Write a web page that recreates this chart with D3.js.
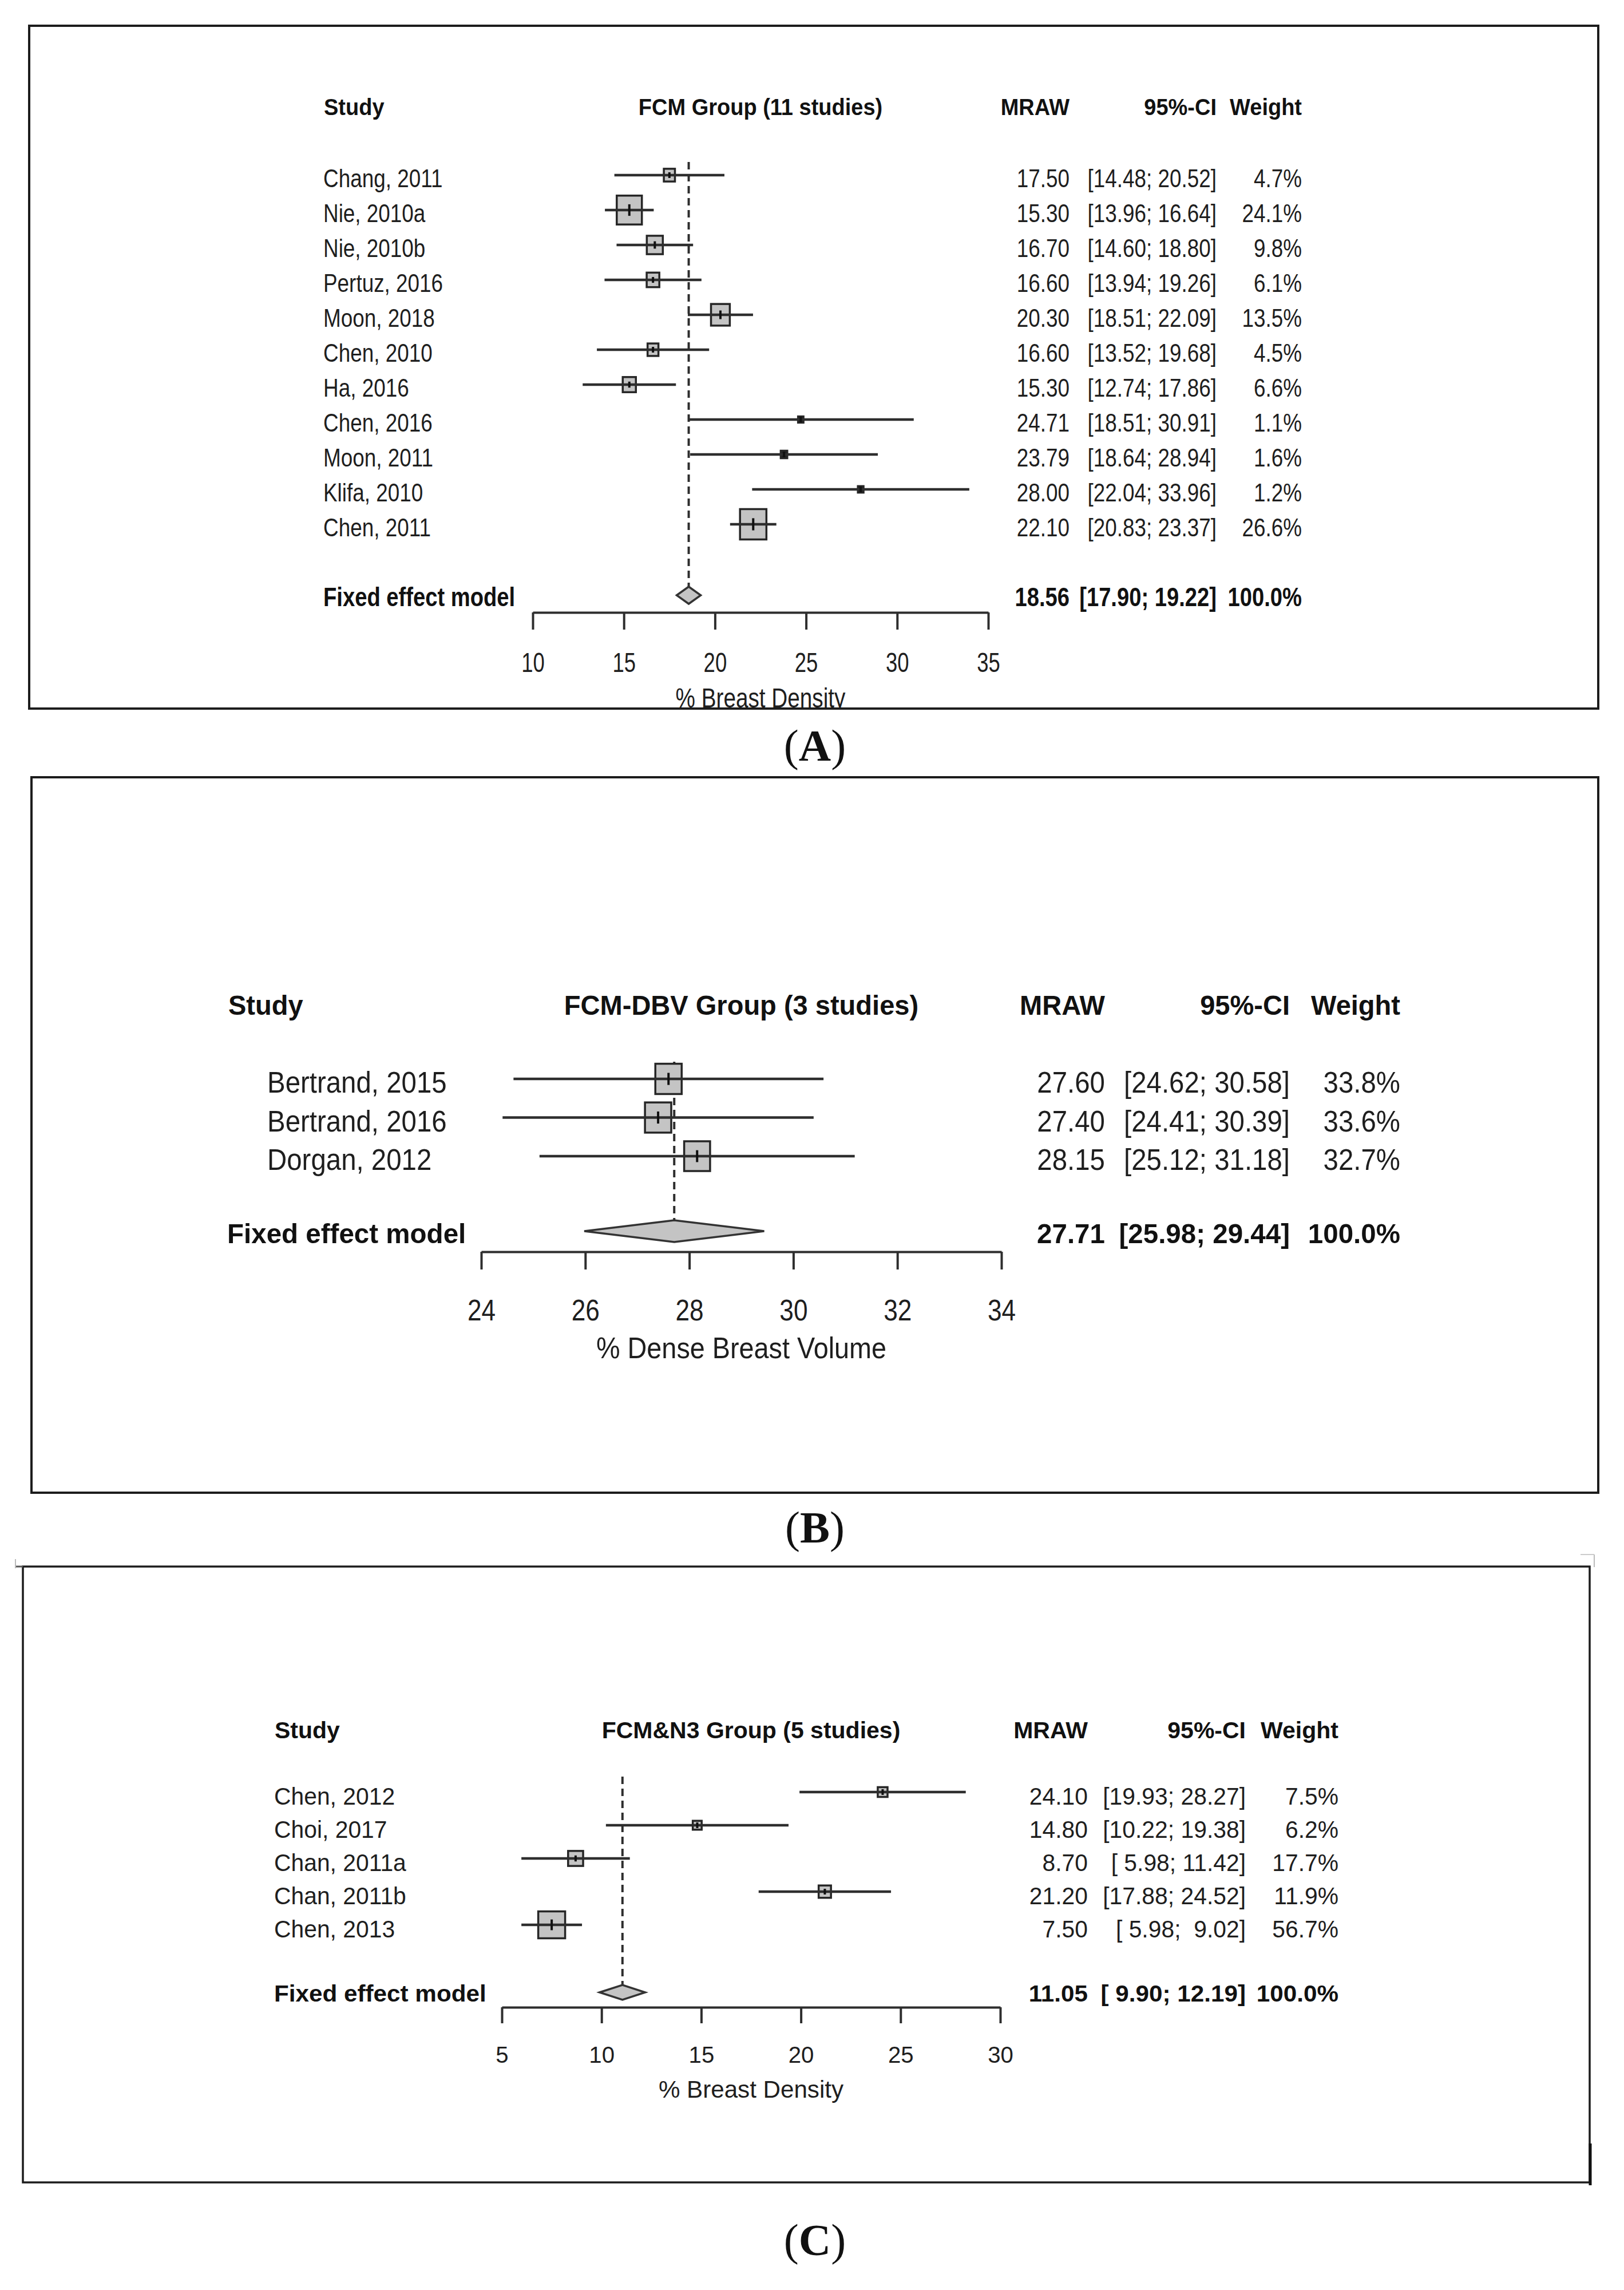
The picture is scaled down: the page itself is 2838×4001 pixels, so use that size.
<!DOCTYPE html>
<html>
<head>
<meta charset="utf-8">
<script src="https://cdn.jsdelivr.net/npm/d3@7"></script>
<style>
  html, body { margin: 0; padding: 0; background: #ffffff; }
  svg { display: block; }
</style>
</head>
<body>
<div id="chart"></div>
<script>
// ---------------- DATA ----------------
// Panel A
const titleA = "FCM Group (11 studies)";
const studiesA = ["Chang, 2011","Nie, 2010a","Nie, 2010b","Pertuz, 2016","Moon, 2018","Chen, 2010","Ha, 2016","Chen, 2016","Moon, 2011","Klifa, 2010","Chen, 2011"];
const meanA   = [17.50,15.30,16.70,16.60,20.30,16.60,15.30,24.71,23.79,28.00,22.10];
const lowerA  = [14.48,13.96,14.60,13.94,18.51,13.52,12.74,18.51,18.64,22.04,20.83];
const upperA  = [20.52,16.64,18.80,19.26,22.09,19.68,17.86,30.91,28.94,33.96,23.37];
const weightA = [4.7,24.1,9.8,6.1,13.5,4.5,6.6,1.1,1.6,1.2,26.6];
const pooledA = [18.56,17.90,19.22];
const ticksA  = [10,15,20,25,30,35];
const xlabelA = "% Breast Density";

// Panel B
const titleB = "FCM-DBV Group (3 studies)";
const studiesB = ["Bertrand, 2015","Bertrand, 2016","Dorgan, 2012"];
const meanB   = [27.60,27.40,28.15];
const lowerB  = [24.62,24.41,25.12];
const upperB  = [30.58,30.39,31.18];
const weightB = [33.8,33.6,32.7];
const pooledB = [27.71,25.98,29.44];
const ticksB  = [24,26,28,30,32,34];
const xlabelB = "% Dense Breast Volume";

// Panel C
const titleC = "FCM&N3 Group (5 studies)";
const studiesC = ["Chen, 2012","Choi, 2017","Chan, 2011a","Chan, 2011b","Chen, 2013"];
const meanC   = [24.10,14.80,8.70,21.20,7.50];
const lowerC  = [19.93,10.22,5.98,17.88,5.98];
const upperC  = [28.27,19.38,11.42,24.52,9.02];
const weightC = [7.5,6.2,17.7,11.9,56.7];
const pooledC = [11.05,9.90,12.19];
const ticksC  = [5,10,15,20,25,30];
const xlabelC = "% Breast Density";

const headStudy = "Study", headMean = "MRAW", headCI = "95%-CI", headW = "Weight";
const fixedLabel = "Fixed effect model";
const pooledWeight = "100.0%";
const captions = ["A","B","C"];

// ---------------- LAYOUT ----------------
const W = 2838, H = 4001;
const SANS = '"Liberation Sans", Arial, Helvetica, sans-serif';
const SERIF = '"Liberation Serif", "Times New Roman", serif';
const INK = "#1e1e1e", LINE = "#2e2e2e", FILLG = "#c4c4c4";

const svg = d3.select("#chart").append("svg")
  .attr("width", W).attr("height", H).attr("viewBox", `0 0 ${W} ${H}`);
svg.append("rect").attr("width", W).attr("height", H).attr("fill", "#fff");
const defs = svg.append("defs");

function txt(g, x, y, s, o) {
  return g.append("text")
    .attr("transform", `translate(${x},${y}) scale(${o.sx || 1},1)`)
    .attr("text-anchor", o.anchor || "start")
    .attr("fill", o.fill || INK)
    .style("font-family", o.family || SANS)
    .style("font-size", o.size + "px")
    .style("font-weight", o.bold ? "bold" : "normal")
    .style("white-space", "pre")
    .text(s);
}

function fmtCI(lo, hi, pad) {
  const p = v => { const s = v.toFixed(2); return (pad && s.length < 5 ? " " : "") + s; };
  return "[" + p(lo) + "; " + p(hi) + "]";
}

function drawPanel(id, d, c) {
  const [bx0, by0, bx1, by1] = c.box;
  defs.append("clipPath").attr("id", "clip" + id)
    .append("rect").attr("x", bx0).attr("y", by0).attr("width", bx1 - bx0).attr("height", by1 - by0);
  const g = svg.append("g").attr("clip-path", `url(#clip${id})`);

  const n = d.studies.length;
  const x = d3.scaleLinear().domain(c.domain).range(c.xRange);
  const y = d3.scaleLinear().domain([0, n - 1]).range([c.y0, c.y0 + c.step * (n - 1)]);
  const sqH = w => c.k * Math.sqrt(w);
  const pad = d.lower.concat(d.upper).some(v => v < 10) && d.upper.some(v => v >= 10);

  // headers
  txt(g, c.studyHeadX, c.headY, headStudy, c.fHead);
  txt(g, (c.xRange[0] + c.xRange[1]) / 2, c.headY, d.title, Object.assign({anchor: "middle"}, c.fHead));
  txt(g, c.colM, c.headY, headMean, Object.assign({anchor: "end"}, c.fHead));
  txt(g, c.colCI, c.headY, headCI, Object.assign({anchor: "end"}, c.fHead));
  txt(g, c.colW, c.headY, headW, Object.assign({anchor: "end"}, c.fHead));

  // reference (fixed effect) dashed line
  g.append("line")
    .attr("x1", x(d.pooled[0])).attr("x2", x(d.pooled[0]))
    .attr("y1", c.dashTop).attr("y2", c.sumY - c.dHalf)
    .attr("stroke", LINE).attr("stroke-width", 4).attr("stroke-dasharray", "13,8");

  const idx = d3.range(n);
  // squares
  g.selectAll("rect.sq" + id).data(idx).enter().append("rect")
    .attr("x", i => x(d.mean[i]) - sqH(d.weight[i]) * c.ar / 2)
    .attr("y", i => y(i) - sqH(d.weight[i]) / 2)
    .attr("width", i => sqH(d.weight[i]) * c.ar)
    .attr("height", i => sqH(d.weight[i]))
    .attr("fill", i => sqH(d.weight[i]) < 14 ? "#222" : FILLG)
    .attr("stroke", "#262626").attr("stroke-width", 3.5);
  // CI lines
  g.selectAll("line.ci" + id).data(idx).enter().append("line")
    .attr("x1", i => x(d.lower[i])).attr("x2", i => x(d.upper[i]))
    .attr("y1", i => y(i)).attr("y2", i => y(i))
    .attr("stroke", LINE).attr("stroke-width", 4.5);
  // centre ticks
  g.selectAll("line.ct" + id).data(idx).enter().append("line")
    .attr("x1", i => x(d.mean[i])).attr("x2", i => x(d.mean[i]))
    .attr("y1", i => y(i) - Math.max(5, sqH(d.weight[i]) * 0.2))
    .attr("y2", i => y(i) + Math.max(5, sqH(d.weight[i]) * 0.2))
    .attr("stroke", "#111").attr("stroke-width", 4);

  // study labels and values
  idx.forEach(i => {
    const by = y(i) + c.rowBase;
    txt(g, c.studyX, by, d.studies[i], c.fRow);
    txt(g, c.colM, by, d.mean[i].toFixed(2), Object.assign({anchor: "end"}, c.fRow));
    txt(g, c.colCI, by, fmtCI(d.lower[i], d.upper[i], pad), Object.assign({anchor: "end"}, c.fRow));
    txt(g, c.colW, by, d.weight[i].toFixed(1) + "%", Object.assign({anchor: "end"}, c.fRow));
  });

  // pooled diamond
  const px = x(d.pooled[0]), pl = x(d.pooled[1]), pu = x(d.pooled[2]);
  g.append("path")
    .attr("d", `M${pl},${c.sumY} L${px},${c.sumY - c.dHalf} L${pu},${c.sumY} L${px},${c.sumY + c.dHalf} Z`)
    .attr("fill", FILLG).attr("stroke", "#333").attr("stroke-width", 3.5);
  const fb = c.sumY + c.fixBase;
  txt(g, c.fixedX, fb, fixedLabel, c.fFix);
  txt(g, c.colM, fb, d.pooled[0].toFixed(2), Object.assign({anchor: "end"}, c.fFix));
  txt(g, c.colCI, fb, fmtCI(d.pooled[1], d.pooled[2], pad), Object.assign({anchor: "end"}, c.fFix));
  txt(g, c.colW, fb, pooledWeight, Object.assign({anchor: "end"}, c.fFix));

  // axis
  const axis = d3.axisBottom(x).tickValues(d.ticks).tickSize(c.tickLen)
    .tickSizeOuter(0).tickPadding(c.tickPad).tickFormat(d3.format("d"));
  const ag = g.append("g").attr("transform", `translate(0,${c.axisY})`).call(axis);
  ag.select(".domain").attr("stroke", LINE).attr("stroke-width", 4);
  ag.selectAll(".tick line").attr("stroke", LINE).attr("stroke-width", 4);
  ag.selectAll(".tick text")
    .attr("fill", INK)
    .attr("transform", `scale(${c.fTick.sx},1)`)
    .style("font-family", SANS).style("font-size", c.fTick.size + "px");

  txt(g, (c.xRange[0] + c.xRange[1]) / 2, c.xlabY, d.xlabel, Object.assign({anchor: "middle"}, c.fXlab));

  // frame
  svg.append("rect").attr("x", bx0).attr("y", by0).attr("width", bx1 - bx0).attr("height", by1 - by0)
    .attr("fill", "none").attr("stroke", "#1c1c1c").attr("stroke-width", c.frameW);

  // caption
  const cap = svg.append("text").attr("x", 1424).attr("y", c.capY)
    .attr("text-anchor", "middle").attr("fill", "#111")
    .style("font-family", SERIF).style("font-size", "78px");
  cap.append("tspan").text("(");
  cap.append("tspan").style("font-weight", "bold").text(c.caption);
  cap.append("tspan").text(")");
}

drawPanel("A",
  {title: titleA, studies: studiesA, mean: meanA, lower: lowerA, upper: upperA, weight: weightA,
   pooled: pooledA, ticks: ticksA, xlabel: xlabelA},
  {box: [51, 45, 2793, 1238], domain: [10, 35], xRange: [931, 1727],
   y0: 306, step: 61, sumY: 1040, dHalf: 15, axisY: 1070, tickLen: 30, tickPad: 40,
   xlabY: 1236, headY: 201, studyHeadX: 566, studyX: 565, fixedX: 565,
   colM: 1869, colCI: 2126, colW: 2275, dashTop: 283, k: 10.28, ar: 0.87,
   rowBase: 21, fixBase: 19, frameW: 4,
   fHead: {size: 40, sx: 0.95, bold: true, fill: "#111"},
   fRow: {size: 45, sx: 0.82},
   fFix: {size: 46, sx: 0.83, bold: true, fill: "#111"},
   fTick: {size: 48, sx: 0.76},
   fXlab: {size: 49, sx: 0.79},
   capY: 1329, caption: captions[0]});

drawPanel("B",
  {title: titleB, studies: studiesB, mean: meanB, lower: lowerB, upper: upperB, weight: weightB,
   pooled: pooledB, ticks: ticksB, xlabel: xlabelB},
  {box: [55, 1358, 2793, 2608], domain: [24, 34], xRange: [841, 1750],
   y0: 1885, step: 67.5, sumY: 2151, dHalf: 19, axisY: 2187, tickLen: 31, tickPad: 52,
   xlabY: 2373, headY: 1773, studyHeadX: 399, studyX: 467, fixedX: 397,
   colM: 1931, colCI: 2254, colW: 2447, dashTop: 1855, k: 9.1, ar: 0.87,
   rowBase: 24, fixBase: 21, frameW: 4,
   fHead: {size: 48, sx: 0.98, bold: true, fill: "#111"},
   fRow: {size: 51, sx: 0.93},
   fFix: {size: 49, sx: 0.97, bold: true, fill: "#111"},
   fTick: {size: 52, sx: 0.85},
   fXlab: {size: 52, sx: 0.9},
   capY: 2695, caption: captions[1]});

drawPanel("C",
  {title: titleC, studies: studiesC, mean: meanC, lower: lowerC, upper: upperC, weight: weightC,
   pooled: pooledC, ticks: ticksC, xlabel: xlabelC},
  {box: [40, 2737, 2778, 3813], domain: [5, 30], xRange: [877, 1748],
   y0: 3131, step: 58, sumY: 3481, dHalf: 13, axisY: 3507, tickLen: 28, tickPad: 40,
   xlabY: 3665, headY: 3037, studyHeadX: 480, studyX: 479, fixedX: 479,
   colM: 1901, colCI: 2177, colW: 2339, dashTop: 3104, k: 6.24, ar: 1,
   rowBase: 22, fixBase: 16, frameW: 3.5,
   fHead: {size: 41, sx: 1.0, bold: true, fill: "#111"},
   fRow: {size: 43, sx: 0.95},
   fFix: {size: 41, sx: 1.03, bold: true, fill: "#111"},
   fTick: {size: 41, sx: 0.98},
   fXlab: {size: 43, sx: 0.98},
   capY: 3940, caption: captions[2]});

// small frame artefacts of panel C
svg.append("line").attr("x1", 27).attr("x2", 40).attr("y1", 2737).attr("y2", 2737)
  .attr("stroke", "#555").attr("stroke-width", 3);
svg.append("line").attr("x1", 27).attr("x2", 27).attr("y1", 2724).attr("y2", 2740)
  .attr("stroke", "#bbb").attr("stroke-width", 2);
svg.append("line").attr("x1", 2786).attr("x2", 2786).attr("y1", 2716).attr("y2", 2738)
  .attr("stroke", "#bbb").attr("stroke-width", 2);
svg.append("line").attr("x1", 2762).attr("x2", 2786).attr("y1", 2716).attr("y2", 2716)
  .attr("stroke", "#ccc").attr("stroke-width", 2);
svg.append("line").attr("x1", 2779).attr("x2", 2779).attr("y1", 3745).attr("y2", 3818)
  .attr("stroke", "#111").attr("stroke-width", 5);
</script>
</body>
</html>
